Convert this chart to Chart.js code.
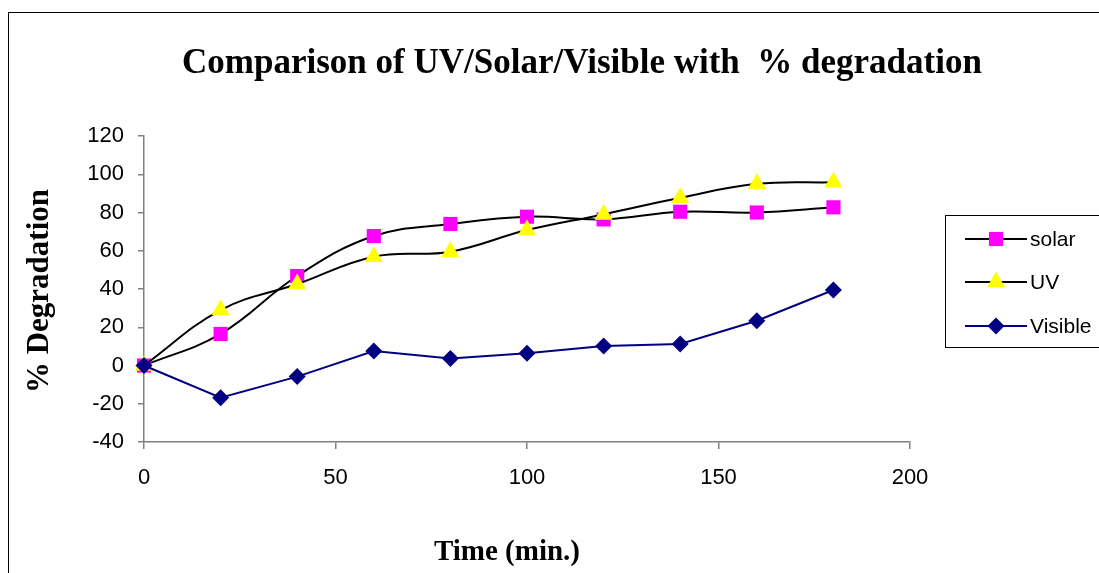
<!DOCTYPE html>
<html>
<head>
<meta charset="utf-8">
<style>
  html, body { margin: 0; padding: 0; background: #ffffff; }
  #wrap { width: 1099px; height: 573px; position: relative; }
</style>
<script src="https://cdn.jsdelivr.net/npm/chart.js@4/dist/chart.umd.min.js"></script>
</head>
<body>
<div id="wrap"><canvas id="chart" width="1099" height="573"></canvas></div>
<script>
// Sampling times (minutes)
const times = [0, 20, 40, 60, 80, 100, 120, 140, 160, 180];

// % degradation for each light source
const solarValues   = [0, 16.5, 46.8, 67.7, 74.0, 77.8, 76.4, 80.4, 80.0, 82.7];
const uvValues      = [0, 29.0, 42.6, 56.9, 59.5, 70.8, 79.0, 87.7, 95.0, 95.8];
const visibleValues = [0, -16.8, -5.8, 7.6, 3.7, 6.4, 10.2, 11.2, 23.4, 39.5];

const seriesNames = ['solar', 'UV', 'Visible'];

// Axis ranges and tick spacing
const xRange = [0, 200];
const xStep = 50;
const yRange = [-40, 120];
const yStep = 20;

const chartTitle = 'Comparison of UV/Solar/Visible with  % degradation';
const xTitle = 'Time (min.)';
const yTitle = '% Degradation';

function toPoints(values) {
  return times.map((t, i) => ({ x: t, y: values[i] }));
}

const axisColor = '#808080';
const sansFont = '"Liberation Sans", Arial, sans-serif';
const serifFont = '"Liberation Serif", "Times New Roman", serif';

// Frame, title, axis titles and boxed legend
const decorations = {
  id: 'decorations',
  afterDraw(chart) {
    const ctx = chart.ctx;
    ctx.save();

    // outer frame
    ctx.strokeStyle = '#000000';
    ctx.lineWidth = 1;
    ctx.strokeRect(8.5, 12.5, 1200, 700);

    // chart title
    ctx.fillStyle = '#000000';
    ctx.font = 'bold 35px ' + serifFont;
    ctx.textAlign = 'center';
    ctx.textBaseline = 'alphabetic';
    ctx.fillText(chartTitle, 582, 73);

    // x-axis title
    ctx.font = 'bold 29px ' + serifFont;
    ctx.fillText(xTitle, 507, 560);

    // y-axis title
    ctx.save();
    ctx.font = 'bold 31px ' + serifFont;
    ctx.translate(48, 291);
    ctx.rotate(-Math.PI / 2);
    ctx.fillText(yTitle, 0, 0);
    ctx.restore();

    // legend box
    ctx.strokeStyle = '#000000';
    ctx.lineWidth = 1;
    ctx.strokeRect(945.5, 215.5, 300, 132);

    const rows = [239, 282, 326];
    ctx.font = '21px ' + sansFont;
    ctx.textAlign = 'left';
    ctx.textBaseline = 'middle';
    seriesNames.forEach((name, i) => {
      const ds = chart.data.datasets[i];
      const y = rows[i];
      ctx.strokeStyle = ds.borderColor;
      ctx.lineWidth = ds.borderWidth;
      ctx.beginPath();
      ctx.moveTo(965, y);
      ctx.lineTo(1027, y);
      ctx.stroke();
      ctx.fillStyle = ds.pointBackgroundColor;
      ctx.strokeStyle = ds.pointBorderColor;
      ctx.lineWidth = 0;
      Chart.helpers.drawPoint(ctx, {
        pointStyle: ds.pointStyle,
        rotation: 0,
        borderWidth: 0,
        radius: ds.pointRadius
      }, 996, y);
      ctx.fillStyle = '#000000';
      ctx.fillText(name, 1030, y + 1);
    });

    ctx.restore();
  }
};

new Chart(document.getElementById('chart'), {
  type: 'line',
  data: {
    datasets: [
      {
        label: seriesNames[0],
        data: toPoints(solarValues),
        borderColor: '#000000',
        borderWidth: 2,
        tension: 0.4,
        pointStyle: 'rect',
        pointRadius: 10,
        pointBackgroundColor: '#FF00FF',
        pointBorderColor: '#FF00FF',
        pointBorderWidth: 0,
        order: 2,
        clip: false
      },
      {
        label: seriesNames[1],
        data: toPoints(uvValues),
        borderColor: '#000000',
        borderWidth: 2,
        tension: 0.4,
        pointStyle: 'triangle',
        pointRadius: 10.5,
        pointBackgroundColor: '#FFFF00',
        pointBorderColor: '#FFFF00',
        pointBorderWidth: 0,
        order: 1,
        clip: false
      },
      {
        label: seriesNames[2],
        data: toPoints(visibleValues),
        borderColor: '#000080',
        borderWidth: 2,
        tension: 0,
        pointStyle: 'rectRot',
        pointRadius: 8.5,
        pointBackgroundColor: '#000080',
        pointBorderColor: '#000080',
        pointBorderWidth: 0,
        order: 0,
        clip: false
      }
    ]
  },
  options: {
    responsive: false,
    animation: false,
    events: [],
    layout: { padding: { left: 0, top: 136, right: 189, bottom: 0 } },
    plugins: {
      legend: { display: false },
      title: { display: false },
      tooltip: { enabled: false }
    },
    scales: {
      x: {
        type: 'linear',
        min: xRange[0],
        max: xRange[1],
        border: { display: true, color: axisColor, width: 1.5 },
        grid: { display: true, drawOnChartArea: false, drawTicks: true, tickLength: 7, color: axisColor, lineWidth: 1.5 },
        ticks: { stepSize: xStep, color: '#000000', padding: 16, font: { family: sansFont, size: 22 } },
        afterFit(scale) { scale.height = 131; }
      },
      y: {
        type: 'linear',
        min: yRange[0],
        max: yRange[1],
        border: { display: true, color: axisColor, width: 1.5 },
        grid: { display: true, drawOnChartArea: false, drawTicks: true, tickLength: 6, color: axisColor, lineWidth: 1.5 },
        ticks: { stepSize: yStep, color: '#000000', padding: 14, font: { family: sansFont, size: 22 } },
        afterFit(scale) { scale.width = 144; }
      }
    }
  },
  plugins: [decorations]
});
</script>
</body>
</html>
